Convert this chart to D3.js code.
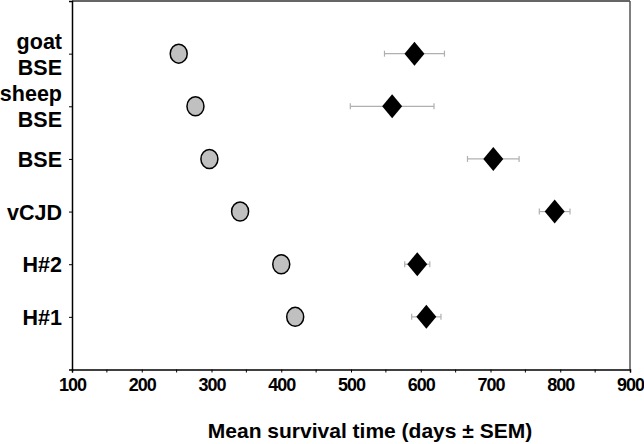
<!DOCTYPE html>
<html><head><meta charset="utf-8">
<script src="https://cdn.jsdelivr.net/npm/d3@7"></script>
<style>body{margin:0;background:#fff}svg{display:block}</style>
</head><body>
<script>
const categories = [["goat","BSE"],["sheep","BSE"],["BSE"],["vCJD"],["H#2"],["H#1"]];
const circleValues = [253, 277, 297, 341, 400, 420];
const circleErr = [10, 9, 8, 8, 8, 9];
const diamondValues = [591, 559, 704, 792, 595, 608];
const diamondErr = [43, 60, 37, 22, 18, 21];
const xTicks = [100,200,300,400,500,600,700,800,900];
const xMinor = [150,250,350,450,550,650,750,850];

(function(){
const W=644,H=444;
const svg=d3.select("body").append("svg").attr("width",W).attr("height",H);
const mLeft=72,mRight=630,mTop=1,mBottom=369.5;
const x=d3.scaleLinear().domain([100,900]).range([mLeft,mRight]);
const y=d3.scaleLinear().domain([0,7]).range([mTop,mBottom]);
const font="Liberation Sans, Arial, sans-serif";

// frame
svg.append("line").attr("x1",mLeft).attr("x2",mRight).attr("y1",mTop).attr("y2",mTop).attr("stroke","#333").attr("stroke-width",1.5);
svg.append("line").attr("x1",mRight).attr("x2",mRight).attr("y1",mTop).attr("y2",mBottom).attr("stroke","#555").attr("stroke-width",1.5);

// x axis
const xa=svg.append("g").attr("transform",`translate(0,${mBottom})`)
  .call(d3.axisBottom(x).tickValues(xTicks).tickSize(3).tickPadding(6).tickFormat(d3.format("d")));
xa.select(".domain").attr("stroke","#000").attr("stroke-width",1.5);
xa.selectAll(".tick text").attr("font-family",font).attr("font-weight","bold").attr("font-size",18)
  .attr("letter-spacing","-1").attr("fill","#000");
xa.selectAll(".tick line").attr("stroke","#000");
svg.append("g").selectAll("line").data(xMinor).join("line")
  .attr("x1",d=>x(d)).attr("x2",d=>x(d)).attr("y1",mBottom).attr("y2",mBottom+3).attr("stroke","#000");

// y axis
const ya=svg.append("g").attr("transform",`translate(${mLeft},0)`)
  .call(d3.axisLeft(y).tickValues(d3.range(1,7)).tickSize(3).tickFormat(""));
ya.select(".domain").attr("stroke","#000").attr("stroke-width",1.5);
ya.selectAll(".tick line").attr("stroke","#000");

// category labels
const lab=svg.append("g");
categories.forEach((c,i)=>{
  const cy=y(i+1);
  const n=c.length, lh=26;
  c.forEach((t,j)=>{
    lab.append("text").attr("x",62).attr("y",cy+(j-(n-1)/2)*lh+8)
      .attr("text-anchor","end").attr("font-family",font).attr("font-weight","bold")
      .attr("font-size",21.5).attr("fill","#000").text(t);
  });
});

// error bars
function errBars(vals,errs){
  const g=svg.append("g").attr("stroke","#b0b0b0").attr("stroke-width",1.2);
  vals.forEach((v,i)=>{
    const cy=y(i+1);
    g.append("line").attr("x1",x(v-errs[i])).attr("x2",x(v+errs[i])).attr("y1",cy).attr("y2",cy);
    [v-errs[i],v+errs[i]].forEach(e=>g.append("line").attr("x1",x(e)).attr("x2",x(e)).attr("y1",cy-3).attr("y2",cy+3));
  });
}
errBars(circleValues,circleErr);
errBars(diamondValues,diamondErr);

// circles
svg.append("g").selectAll("ellipse").data(circleValues).join("ellipse")
  .attr("cx",d=>x(d)).attr("cy",(d,i)=>y(i+1)).attr("rx",8.5).attr("ry",9.5)
  .attr("fill","#c0c0c0").attr("stroke","#000").attr("stroke-width",1.5);

// diamonds
svg.append("g").selectAll("path").data(diamondValues).join("path")
  .attr("d",(d,i)=>{const cx=x(d),cy=y(i+1);return `M${cx},${cy-12}L${cx+10},${cy}L${cx},${cy+12}L${cx-10},${cy}Z`;})
  .attr("fill","#000");

// title
svg.append("text").attr("x",370).attr("y",438).attr("text-anchor","middle")
  .attr("font-family",font).attr("font-weight","bold").attr("font-size",21).attr("fill","#000")
  .text("Mean survival time (days ± SEM)");
})();
</script>
</body></html>
